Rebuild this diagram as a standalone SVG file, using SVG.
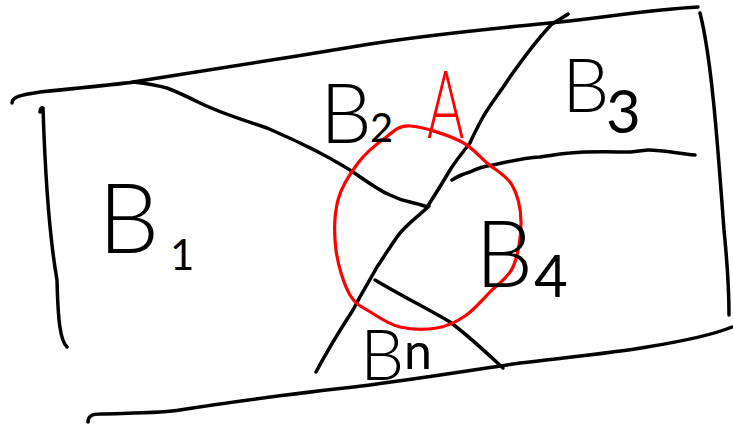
<svg xmlns="http://www.w3.org/2000/svg" width="733" height="425" viewBox="0 0 733 425">
<style>
.ln{fill:none;stroke:#000;stroke-width:3.5;stroke-linecap:round;stroke-linejoin:round}
.rd{fill:none;stroke:#f00;stroke-width:3.2;stroke-linecap:round;stroke-linejoin:round}
.lb{font-family:Lato,"Liberation Sans",sans-serif;font-weight:300;fill:#000}
.sb{font-weight:400}
.la{font-family:Lato,"Liberation Sans",sans-serif;font-weight:300;fill:#f00}
</style>
<rect width="733" height="425" fill="#fff"/>
<g id="outline">
<path class="ln" d="M12,103 C12,97 20,95 40,92 C90,87 130,83 133,82 C200,72 290,57 370,44 C440,33 500,28 560,22 C620,15 660,9 698,7"/>
<path class="ln" d="M40,112 C40,108 42,107 43,108 C45,170 50,240 57,280 C58,320 60,340 67,347"/>
<path class="ln" d="M700,13 C712,60 718,150 724,230 C728,270 729,295 729,315"/>
<path class="ln" d="M88,422 C88,416 92,414 100,414 C130,413 165,413 180,410 C240,400 300,393 370,385 C430,377 480,369 520,363 C580,356 620,352 647,347 C690,340 715,334 732,327"/>
</g>
<g id="boundaries">
<path class="ln" d="M568,14 C560,20 553,22 550,26 C535,42 522,60 510,77 C498,95 490,105 483,117 C476,130 472,138 470,143 C462,153 455,162 450,170 C440,187 433,198 427,207"/>
<path class="ln" d="M429,206 C420,215 405,225 397,237 C388,250 383,258 377,267 C370,280 362,292 353,310 C340,330 325,355 316,372"/>
<path class="ln" d="M133,82 C150,84 160,86 167,88 C180,93 190,98 200,103 C225,115 250,122 267,128 C280,134 290,138 300,143 C310,148 315,150 320,153 C330,158 340,164 350,170 C365,180 378,190 390,195 C400,200 405,201 410,202 C418,204 423,205 427,207"/>
<path class="ln" d="M452,180 C458,176 463,174 470,172 C478,168 485,166 493,165 C510,161 525,158 540,157 C555,155 565,153 570,153 C590,151 615,152 630,152 C640,151 645,150 648,150 C665,150 680,154 695,155"/>
<path class="ln" d="M375,280 C400,295 430,310 450,322 C470,337 490,356 503,368"/>
</g>
<g id="circle-A">
<path class="rd" d="M410,126 C422.5,126.5 447.2,134.8 460,141 C472.8,147.2 478.3,155.7 487,163 C495.7,170.3 506.3,175.2 512,185 C517.7,194.8 520.8,208.3 521,222 C521.2,235.7 518.2,255.3 513,267 C507.8,278.7 498,283.8 490,292 C482,300.2 473.8,310 465,316 C456.2,322 447.8,326.2 437,328 C426.2,329.8 410.8,329.5 400,327 C389.2,324.5 380.3,318.3 372,313 C363.7,307.7 356,305.5 350,295 C344,284.5 338,265.8 336,250 C334,234.2 334.3,214.5 338,200 C341.7,185.5 350.2,173.3 358,163 C365.8,152.7 376.3,144.2 385,138 C393.7,131.8 397.5,125.5 410,126 Z"/>
<text class="la" font-size="95" transform="translate(427,138) scale(0.6,1)">A</text>
</g>
<g id="label-B1"><text class="lb" x="98" y="253" font-size="97">B<tspan class="sb" x="170" y="270" font-size="42">1</tspan></text></g>
<g id="label-B2"><text class="lb" x="320" y="143" font-size="82">B<tspan class="sb" x="370" y="142" font-size="40">2</tspan></text></g>
<g id="label-B3"><text class="lb" x="562" y="112" font-size="75">B<tspan class="sb" x="606" y="133" font-size="60">3</tspan></text></g>
<g id="label-B4"><text class="lb" x="475" y="287" font-size="92">B<tspan class="sb" x="534" y="297" font-size="58">4</tspan></text></g>
<g id="label-Bn"><text class="lb" x="360" y="380" font-size="70">B<tspan class="sb" x="404" y="369" font-size="50">n</tspan></text></g>
</svg>
